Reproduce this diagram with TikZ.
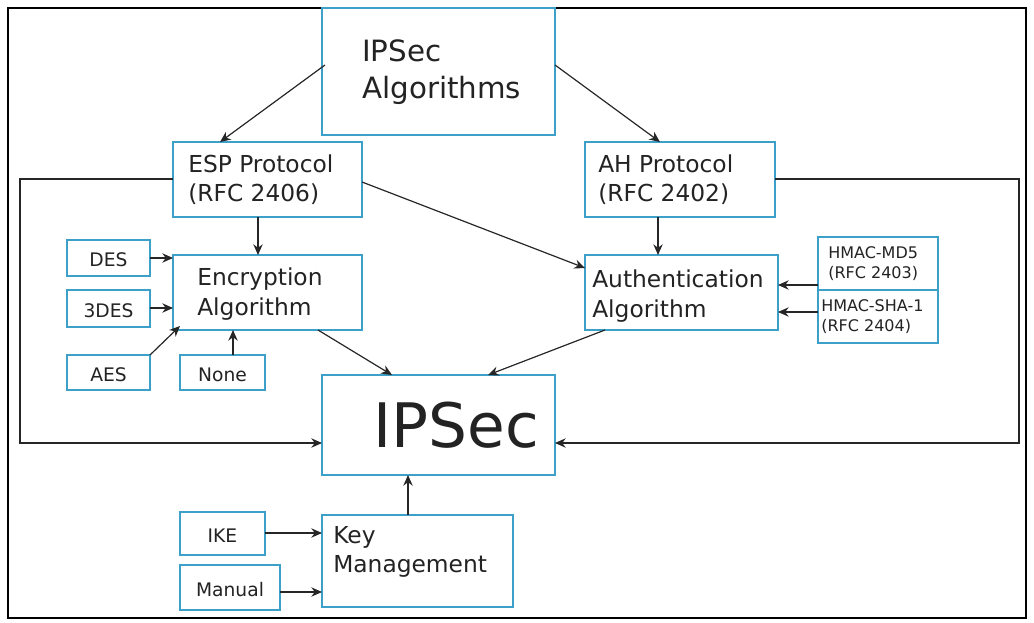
\documentclass[tikz,border=0pt]{standalone}
\usepackage{fontspec}
\setmainfont{DejaVu Sans}
\usetikzlibrary{arrows.meta}
\definecolor{boxblue}{RGB}{60,160,200}
\definecolor{txt}{RGB}{35,35,35}

\begin{document}
\begin{tikzpicture}[x=0.75pt,y=-0.75pt]
    \tikzset{blk/.style={draw=boxblue, line width=1.3pt, fill=white},
             lbl/.style={text=txt, font=\fontsize{17.5}{22}\selectfont, align=left, anchor=west, inner sep=0pt},
             sml/.style={text=txt, font=\fontsize{13}{16}\selectfont, align=left},
             arr/.style={-{Stealth[length=8pt,width=7pt]}, line width=0.9pt, black!85}}
    \useasboundingbox (0,0) rectangle (1034,623);
    \draw[line width=0.8pt] (8,8) rectangle (1026,618);
    % main boxes
    \draw[blk] (322,8) rectangle (555,135);
    \node[lbl, font=\fontsize{22}{28}\selectfont] (algo) at (362,72) {IPSec\\Algorithms};
    \draw[blk] (173,142) rectangle (362,217);
    \node[lbl] (esp) at (188,180) {ESP Protocol\\(RFC 2406)};
    \draw[blk] (585,142) rectangle (775,217);
    \node[lbl] (ah) at (598,180) {AH Protocol\\(RFC 2402)};
    \draw[blk] (173,255) rectangle (362,330);
    \node[lbl] (enc) at (197,294) {Encryption\\Algorithm};
    \draw[blk] (585,255) rectangle (778,330);
    \node[lbl] (auth) at (592,296) {Authentication\\Algorithm};
    \draw[blk] (322,375) rectangle (555,475);
    \node[text=txt, font=\fontsize{46}{50}\selectfont] (ipsec) at (456,425) {IPSec};
    \draw[blk] (322,515) rectangle (513,607);
    \node[lbl] (key) at (333,552) {Key\\Management};
    % small boxes
    \draw[blk] (818,237) rectangle (938,343);
    \draw[blk] (818,290) -- (938,290);
    \node[sml, anchor=west, inner sep=0pt, font=\fontsize{12}{15}\selectfont] (md5) at (828,264) {HMAC-MD5\\(RFC 2403)};
    \node[sml, anchor=west, inner sep=0pt, font=\fontsize{12}{15}\selectfont] (sha) at (821,317) {HMAC-SHA-1\\(RFC 2404)};
    \foreach \nm/\lab/\ya/\yb/\xa/\xb in {des/DES/240/276/67/150, tdes/3DES/290/327/67/150,
        aes/AES/355/390/67/150, none/None/355/390/180/265, ike/IKE/512/555/180/265,
        man/Manual/565/610/180/280} {
        \draw[blk] (\xa,\ya) rectangle (\xb,\yb);
        \node[sml, font=\fontsize{14}{17}\selectfont] (\nm) at ({(\xa+\xb)/2},{(\ya+\yb)/2+2}) {\lab};
    }
    % connectors
    \draw[arr] (325,65) -- (220,142);
    \draw[arr] (555,65) -- (660,142);
    \draw[arr] (258,217) -- (258,255);
    \draw[arr] (658,217) -- (658,255);
    \draw[arr] (362,182) -- (585,268);
    \draw[arr] (318,330) -- (392,375);
    \draw[arr] (605,330) -- (488,375);
    \draw[arr] (150,258) -- (173,258);
    \draw[arr] (150,308) -- (173,308);
    \draw[arr] (150,355) -- (180,326);
    \draw[arr] (233,355) -- (233,330);
    \draw[arr] (818,285) -- (778,285);
    \draw[arr] (818,312) -- (778,312);
    \draw[arr] (265,533) -- (322,533);
    \draw[arr] (280,592) -- (322,592);
    \draw[arr] (408,515) -- (408,475);
    \draw[arr] (173,179) -- (20,179) -- (20,443) -- (322,443);
    \draw[arr] (775,179) -- (1019,179) -- (1019,443) -- (555,443);
\end{tikzpicture}
\end{document}
